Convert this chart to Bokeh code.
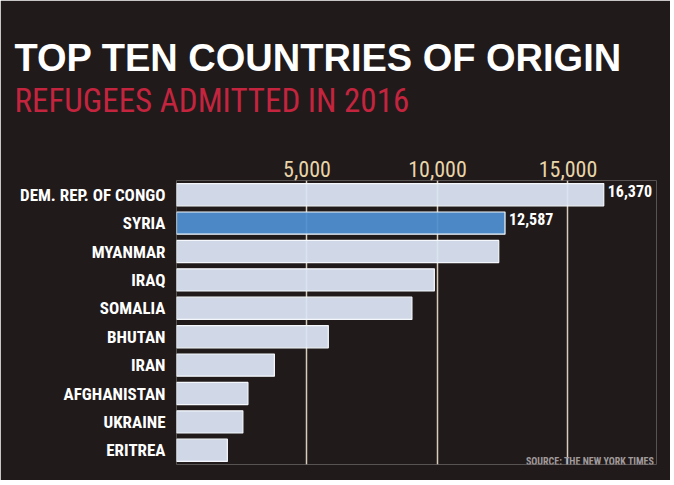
from bokeh.plotting import figure
from bokeh.models import (ColumnDataSource, FixedTicker, NumeralTickFormatter, Label, Range1d,
                          FactorRange, Title)
from bokeh.core.properties import value
from bokeh.embed import file_html
from bokeh.resources import INLINE

# ---- data ----
countries = ["DEM. REP. OF CONGO", "SYRIA", "MYANMAR", "IRAQ", "SOMALIA",
             "BHUTAN", "IRAN", "AFGHANISTAN", "UKRAINE", "ERITREA"]
refugees = [16370, 12587, 12347, 9880, 9020, 5817, 3750, 2737, 2543, 1949]
highlight = ["SYRIA"]
labeled = ["DEM. REP. OF CONGO", "SYRIA"]
tick_values = [5000, 10000, 15000]
title_text = "TOP TEN COUNTRIES OF ORIGIN"
subtitle_text = "REFUGEES ADMITTED IN 2016"
source_text = "SOURCE: THE NEW YORK TIMES"

# ---- style ----
BG = "#211a1b"
BAR = "#dbe4f4"
BAR_HI = "#4f8fd0"
COND = "Roboto Condensed"

colors = [BAR_HI if c in highlight else BAR for c in countries]
src = ColumnDataSource(dict(country=countries, n=refugees, color=colors))

lab_vals = [refugees[countries.index(c)] for c in labeled]
lab_src = ColumnDataSource(dict(country=labeled, n=lab_vals,
                                txt=[f"{v:,}" for v in lab_vals]))

p = figure(width=670, height=480,
           y_range=FactorRange(factors=countries[::-1]),
           x_range=Range1d(0, 18391),
           x_axis_location="above",
           output_backend="svg", toolbar_location=None,
           min_border_left=176, min_border_right=14,
           min_border_top=180, min_border_bottom=16)

p.background_fill_color = BG
p.border_fill_color = BG
p.outline_line_color = None

p.hbar(y="country", left=0, right="n", height=0.78, source=src,
       fill_color="color", fill_alpha=0.94,
       line_color="#f4f8fc", line_width=1.2)

p.text(x="n", y="country", text="txt", source=lab_src,
       x_offset=4, y_offset=-4, text_baseline="middle", text_align="left",
       text_font=value(COND), text_font_style="bold",
       text_font_size="16px", text_color="white")

# x axis on top
p.xaxis.ticker = FixedTicker(ticks=tick_values)
p.xaxis.formatter = NumeralTickFormatter(format="0,0")
p.xaxis.axis_line_color = None
p.xaxis.major_tick_line_color = None
p.xaxis.minor_tick_line_color = None
p.xaxis.major_tick_out = 0
p.xaxis.major_tick_in = 0
p.xaxis.major_label_text_color = "#e8d5a9"
p.xaxis.major_label_text_font = COND
p.xaxis.major_label_text_font_size = "22px"
p.xaxis.major_label_standoff = 4

# y axis
p.yaxis.axis_line_color = None
p.yaxis.major_tick_line_color = None
p.yaxis.minor_tick_line_color = None
p.yaxis.major_tick_out = 0
p.yaxis.major_tick_in = 0
p.yaxis.major_label_text_color = "white"
p.yaxis.major_label_text_font = COND
p.yaxis.major_label_text_font_style = "bold"
p.yaxis.major_label_text_font_size = "17px"
p.yaxis.major_label_standoff = 11

p.xgrid.grid_line_color = "#d6cdbd"
p.xgrid.grid_line_width = 1.5
p.ygrid.grid_line_color = None

# blank spacer between the tick labels and the subtitle
p.add_layout(Title(text=" ", standoff=35, text_font_size="1px"), "above")

# titles (added outward)
p.add_layout(Title(text=subtitle_text, align="left", offset=-162, standoff=0,
                   text_font=COND, text_font_style="normal",
                   text_font_size="33px", text_color="#c4243e"), "above")
p.add_layout(Title(text=title_text, align="left", offset=-162, standoff=0,
                   text_font="Liberation Sans", text_font_style="bold",
                   text_font_size="38px", text_color="white"), "above")

p.add_layout(Label(x=478, y=3, x_units="screen", y_units="screen",
                   text=source_text, text_font=COND, text_font_style="bold",
                   text_font_size="10px", text_color="#a09a9a",
                   text_align="right", text_baseline="alphabetic"))

open("out.html", "w").write(file_html(p, INLINE))
